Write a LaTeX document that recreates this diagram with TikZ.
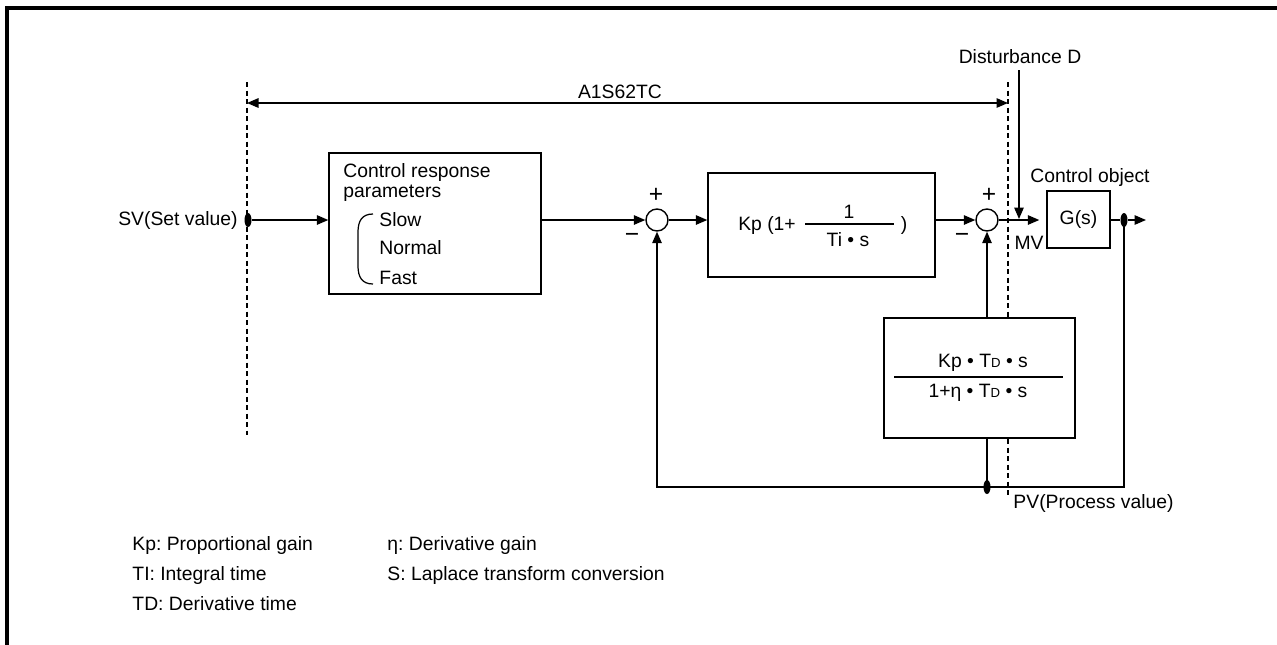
\documentclass[tikz,border=0pt]{standalone}
\usepackage{fontspec}
\setmainfont{Liberation Sans}
\usetikzlibrary{arrows.meta,shapes.geometric}
\newcommand{\tsub}[1]{{\fontsize{7.5}{8}\selectfont #1}}
\frenchspacing

\begin{document}
\begin{tikzpicture}[x=0.2mm,y=-0.2mm,>={Triangle[length=2.3mm,width=1.9mm]},line width=0.8pt,
  font=\fontsize{11}{13}\selectfont,
  blk/.style={draw,fill=white,inner sep=0pt},
  lbl/.style={inner sep=1pt},
  sgn/.style={inner sep=1pt,font=\fontsize{14}{16}\selectfont},
  sumpt/.style={draw,circle,minimum size=4.4mm,inner sep=0pt},
  tap/.style={ellipse,fill,minimum width=1.4mm,minimum height=2.8mm,inner sep=0pt},
  bnd/.style={dash pattern=on 1mm off 0.7mm,line width=0.7pt}]
\useasboundingbox (0,0) rectangle (1277,644);
\draw[line width=1.8pt] (7,660) -- (7,8) -- (1290,8);

% range of the unit
\coordinate (bltop) at (247,82);
\coordinate (blbot) at (247,435);
\coordinate (brtop) at (1008,82);
\coordinate (brbot) at (1008,495);
\draw[bnd] (bltop) -- (blbot);
\draw[bnd] (brtop) -- (brbot);
\coordinate (rngl) at (247,103);
\coordinate (rngr) at (1008,103);
\node[lbl] (unit) at (620,92) {A1S62TC};
\draw[<->] (rngl) -- (rngr);

\node[lbl] (dist) at (1020,57) {Disturbance D};
\coordinate (dtop) at (1019,70);
\coordinate (mvpt) at (1019,219);
\draw[->] (dtop) -- (mvpt);

% response parameters
\node[blk,minimum width=42.4mm,minimum height=28.2mm] (resp) at (435,223.5) {};
\node[lbl,anchor=west] (resp1) at (341,172) {Control response};
\node[lbl,anchor=west] (resp2) at (341,193) {parameters};
\node[lbl,anchor=west] (slow) at (377,220) {Slow};
\node[lbl,anchor=west] (normal) at (377,248) {Normal};
\node[lbl,anchor=west] (fast) at (377,278) {Fast};
\draw[line width=0.7pt] (373,214) .. controls (362,214) and (358,221) .. (358,232) -- (358,266)
  .. controls (358,277) and (362,284) .. (373,284);

% PI part
\node[blk,minimum width=45.4mm,minimum height=20.8mm] (kp) at (821.5,225) {};
\node[lbl] (kpa) at (767,225) {Kp (1+};
\node[lbl] (kpn) at (849,212) {1};
\node[lbl] (kpd) at (848,240) {Ti • s};
\node[lbl] (kpc) at (904,225) {)};
\draw (805,224) -- (894,224);

\node[sumpt] (j1) at (657,220) {};
\node[sumpt] (j2) at (987,220) {};
\node[sgn] (j1p) at (656,195) {+};
\node[sgn] (j1m) at (632,238) {−};
\node[sgn] (j2p) at (989,195) {+};
\node[sgn] (j2m) at (962,238) {−};

\node[blk,minimum width=12.6mm,minimum height=11.4mm] (gs) at (1078.5,219.5) {G(s)};
\node[lbl] (gslbl) at (1090,177) {Control object};
\node[lbl] (mv) at (1029,243) {MV};

% D part
\node[blk,minimum width=38.2mm,minimum height=24mm] (der) at (979.5,378) {};
\node[lbl] (dern) at (983,363) {Kp • T\tsub{D} • s};
\node[lbl] (derd) at (978,393) {1+η • T\tsub{D} • s};
\draw (894,377) -- (1063,377);

\node[tap] (svdot) at (248,220) {};
\node[lbl,anchor=east] (sv) at (240,220) {SV(Set value)};
\draw[->] (svdot) -- (resp.west |- svdot);
\draw[->] (resp.east |- j1) -- (j1);
\draw[->] (j1) -- (kp.west |- j1);
\draw[->] (kp.east |- j2) -- (j2);
\draw[->,shorten >=1.4mm] (j2) -- (gs.west |- j2);
\node[tap] (outdot) at (1124,220) {};
\coordinate (out) at (1146,220);
\draw (gs.east |- outdot) -- (outdot);
\draw[->] (outdot) -- (out);

% feedback
\node[tap] (pvdot) at (987,487) {};
\draw[->] (outdot.center) |- (pvdot.center) -| (j1.south);
\draw (pvdot.center) -- (der.south -| pvdot);
\draw[->] (der.north -| pvdot) -- (j2.south);
\node[lbl,anchor=west] (pv) at (1011,503) {PV(Process value)};

\node[lbl,anchor=west] (kplg) at (130,545) {Kp: Proportional gain};
\node[lbl,anchor=west] (tilg) at (130,575) {TI: Integral time};
\node[lbl,anchor=west] (tdlg) at (130,604) {TD: Derivative time};
\node[lbl,anchor=west] (etalg) at (385,545) {η: Derivative gain};
\node[lbl,anchor=west] (slg) at (385,575) {S: Laplace transform conversion};
\end{tikzpicture}
\end{document}
